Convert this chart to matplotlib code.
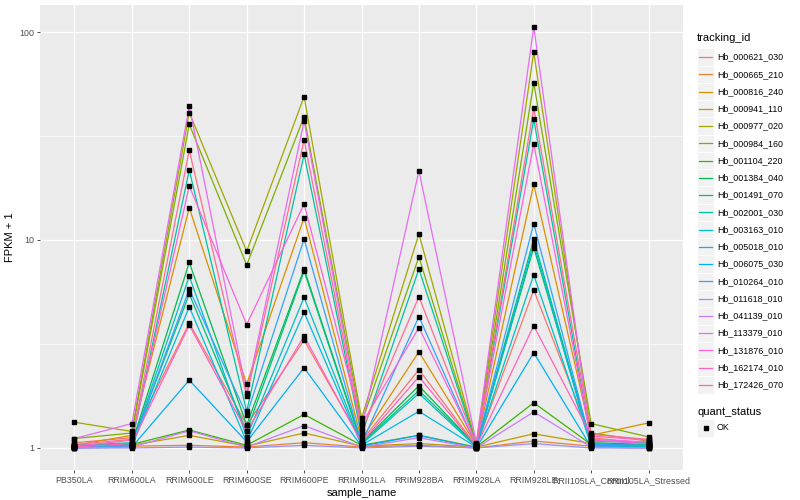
import matplotlib
matplotlib.use("Agg")
import matplotlib.pyplot as plt
import matplotlib.patches as patches
from matplotlib.lines import Line2D
import numpy as np
import pandas as pd

plt.rcParams['font.family'] = ['Liberation Sans', 'DejaVu Sans']

samples = ["PB350LA", "RRIM600LA", "RRIM600LE", "RRIM600SE", "RRIM600PE", "RRIM901LA",
           "RRIM928BA", "RRIM928LA", "RRIM928LE", "RRII105LA_Control", "RRII105LA_Stressed"]

tracking_ids = ["Hb_000621_030", "Hb_000665_210", "Hb_000816_240", "Hb_000941_110",
                "Hb_000977_020", "Hb_000984_160", "Hb_001104_220", "Hb_001384_040",
                "Hb_001491_070", "Hb_002001_030", "Hb_003163_010", "Hb_005018_010",
                "Hb_006075_030", "Hb_010264_010", "Hb_011618_010", "Hb_041139_010",
                "Hb_113379_010", "Hb_131876_010", "Hb_162174_010", "Hb_172426_070"]

colors = ["#F8766D", "#EA8331", "#D89000", "#C09B00", "#A3A500", "#7CAE00", "#39B600",
          "#00BB4E", "#00BF7D", "#00C1A3", "#00BFC4", "#00BAE0", "#00B0F6", "#35A2FF",
          "#9590FF", "#C77CFF", "#E76BF3", "#FA62DB", "#FF62BC", "#FF6C91"]

# FPKM + 1, one list per gene, in sample order
hb_000621_030 = [1.06, 1.12, 3.98, 1.29, 3.3, 1.08, 2.38, 1.02, 5.75, 1.12, 1.05]
hb_000665_210 = [1.01, 1.02, 1.03, 1.01, 1.06, 1.01, 1.03, 1.0, 1.08, 1.02, 1.01]
hb_000816_240 = [1.03, 1.15, 14.3, 2.03, 12.8, 1.1, 2.9, 1.03, 18.5, 1.15, 1.32]
hb_000941_110 = [1.02, 1.03, 1.15, 1.02, 1.18, 1.02, 1.05, 1.01, 1.17, 1.05, 1.03]
hb_000977_020 = [1.33, 1.2, 41, 8.83, 48.9, 1.39, 10.7, 1.05, 80, 1.18, 1.08]
hb_000984_160 = [1.11, 1.18, 36, 7.58, 39.2, 1.32, 8.3, 1.04, 57, 1.31, 1.13]
hb_001104_220 = [1.02, 1.04, 1.22, 1.03, 1.45, 1.03, 1.15, 1.01, 1.65, 1.04, 1.02]
hb_001384_040 = [1.01, 1.05, 7.8, 1.29, 7.25, 1.06, 1.99, 1.02, 9.2, 1.06, 1.04]
hb_001491_070 = [1.02, 1.04, 5.5, 1.2, 7.1, 1.05, 1.89, 1.02, 10.1, 1.04, 1.03]
hb_002001_030 = [1.03, 1.06, 21.7, 1.5, 25.8, 1.15, 7.25, 1.03, 38, 1.08, 1.06]
hb_003163_010 = [1.01, 1.03, 6.7, 1.13, 5.3, 1.04, 1.83, 1.01, 6.8, 1.03, 1.02]
hb_005018_010 = [1.0, 1.02, 4.77, 1.07, 4.49, 1.03, 1.5, 1.01, 9.6, 1.02, 1.01]
hb_006075_030 = [1.0, 1.01, 2.12, 1.07, 2.43, 1.02, 1.15, 1.0, 2.87, 1.01, 1.0]
hb_010264_010 = [1.01, 1.03, 5.8, 1.44, 10.1, 1.05, 4.28, 1.02, 12, 1.04, 1.03]
hb_011618_010 = [1.0, 1.0, 1.01, 1.0, 1.03, 1.0, 1.02, 1.0, 1.05, 1.0, 1.0]
hb_041139_010 = [1.0, 1.01, 1.21, 1.01, 1.28, 1.01, 1.12, 1.0, 1.49, 1.01, 1.0]
hb_113379_010 = [1.11, 1.31, 44, 1.83, 37.3, 1.25, 21.5, 1.06, 106, 1.1, 1.07]
hb_131876_010 = [1.02, 1.09, 18.2, 3.92, 14.9, 1.3, 3.79, 1.03, 29, 1.09, 1.05]
hb_162174_010 = [1.01, 1.05, 3.9, 1.2, 3.45, 1.06, 2.2, 1.02, 3.87, 1.14, 1.09]
hb_172426_070 = [1.04, 1.1, 27, 1.78, 30.3, 1.2, 5.34, 1.04, 43, 1.16, 1.1]

values = [hb_000621_030, hb_000665_210, hb_000816_240, hb_000941_110, hb_000977_020,
          hb_000984_160, hb_001104_220, hb_001384_040, hb_001491_070, hb_002001_030,
          hb_003163_010, hb_005018_010, hb_006075_030, hb_010264_010, hb_011618_010,
          hb_041139_010, hb_113379_010, hb_131876_010, hb_162174_010, hb_172426_070]

df = pd.DataFrame(values, index=tracking_ids, columns=samples)

W, H = 800, 500
fig = plt.figure(figsize=(8, 5), dpi=100)
ax = fig.add_axes([40 / W, 1 - 470 / H, 643 / W, 465 / H])
ax.set_facecolor("#EBEBEB")

x = np.arange(len(samples))
for i, tid in enumerate(tracking_ids):
    ax.plot(x, df.loc[tid].values, color=colors[i], lw=0.9, zorder=3)
for i, tid in enumerate(tracking_ids):
    ax.plot(x, df.loc[tid].values, ls="none", marker="s", ms=2.2, color="black", zorder=4)

ax.set_yscale("log")
ax.set_ylim(10 ** -0.106, 10 ** 2.13)
ax.set_xlim(-0.6, len(samples) - 0.4)
ax.set_yticks([1, 10, 100])
ax.set_yticklabels(["1", "10", "100"])
ax.set_yticks([10 ** 0.5, 10 ** 1.5], minor=True)
ax.yaxis.set_minor_formatter(matplotlib.ticker.NullFormatter())
ax.set_xticks(x)
ax.set_xticklabels(samples)

ax.grid(True, which="major", color="white", lw=0.9, zorder=0)
ax.grid(True, which="minor", axis="y", color="white", lw=0.45, zorder=0)
ax.set_axisbelow(True)
for s in ax.spines.values():
    s.set_visible(False)
ax.tick_params(which="major", length=2.2, width=0.6, color="#333333",
               labelsize=6.4, labelcolor="#4D4D4D", pad=2)
ax.tick_params(which="minor", length=0)

ax.set_xlabel("sample_name", fontsize=8, color="black", labelpad=2)
ax.set_ylabel("FPKM + 1", fontsize=8, color="black", labelpad=3)

# legend drawn by hand, ggplot style
def fx(px):
    return px / W

def fy(py):
    return 1 - py / H

fig.text(fx(697), fy(38), "tracking_id", fontsize=8, va="center", ha="left")
key = 17.3
for i, tid in enumerate(tracking_ids):
    cy = 57 + i * 17.26
    fig.add_artist(patches.Rectangle((fx(697), fy(cy + key / 2)), key / W, key / H,
                                     facecolor="#F2F2F2", edgecolor="white", lw=0.5))
    fig.add_artist(Line2D([fx(699), fx(712)], [fy(cy), fy(cy)], color=colors[i], lw=0.9))
    fig.text(fx(717), fy(cy), tid, fontsize=6.4, va="center", ha="left")

fig.text(fx(697), fy(412), "quant_status", fontsize=8, va="center", ha="left")
fig.add_artist(patches.Rectangle((fx(697), fy(428 + key / 2)), key / W, key / H,
                                 facecolor="#F2F2F2", edgecolor="white", lw=0.5))
fig.add_artist(Line2D([fx(705.5)], [fy(428)], ls="none", marker="s", ms=2.2, color="black"))
fig.text(fx(717), fy(428), "OK", fontsize=6.4, va="center", ha="left")

fig.savefig("out.png", dpi=100, facecolor="white")
